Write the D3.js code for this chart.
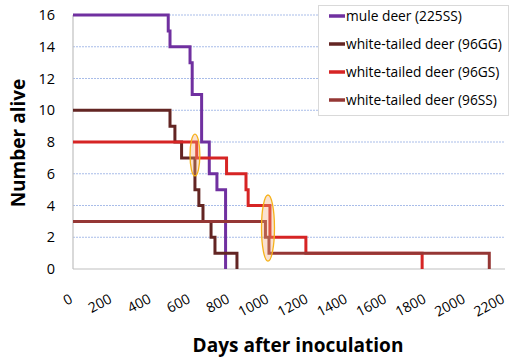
<!DOCTYPE html>
<html>
<head>
<meta charset="utf-8">
<script src="https://cdn.jsdelivr.net/npm/d3@7"></script>
<style>
  html, body { margin: 0; padding: 0; background: #fff; }
  svg { display: block; }
  text { font-family: "Open Sans", "DejaVu Sans", sans-serif; fill: #000; }
</style>
</head>
<body>
<svg id="chart" width="516" height="357"></svg>
<script>
// ---- data ----
const seriesNames = ["mule deer (225SS)", "white-tailed deer (96GG)", "white-tailed deer (96GS)", "white-tailed deer (96SS)"];
const seriesColors = ["#7030a0", "#632523", "#d62424", "#953735"];
const muleDays   = [0, 485, 494, 596, 607, 655, 694, 733, 777];
const muleAlive  = [16, 15, 14, 13, 11, 8, 6, 5, 0];
const gg96Days   = [0, 494, 519, 553, 621, 641, 662, 703, 723, 835];
const gg96Alive  = [10, 9, 8, 7, 5, 4, 3, 2, 1, 0];
const gs96Days   = [0, 630, 782, 881, 892, 1003, 1186, 1778];
const gs96Alive  = [8, 7, 6, 5, 4, 2, 1, 0];
const ss96Days   = [0, 980, 998, 2120];
const ss96Alive  = [3, 2, 1, 0];
const xTicks = [0, 200, 400, 600, 800, 1000, 1200, 1400, 1600, 1800, 2000, 2200];
const yTicks = [0, 2, 4, 6, 8, 10, 12, 14, 16];
// highlighted regions: centre day, centre value, half-width (days), half-height (animals)
const highlightDay = [621, 993];
const highlightVal = [7.18, 2.58];
const highlightRDay = [25, 33];
const highlightRVal = [1.32, 2.08];

const series = [
  {days: muleDays, alive: muleAlive},
  {days: gg96Days, alive: gg96Alive},
  {days: gs96Days, alive: gs96Alive},
  {days: ss96Days, alive: ss96Alive}
];

// ---- layout ----
const svg = d3.select("#chart");
const pL = 73, pR = 505, pT = 15, pB = 269;
const x = d3.scaleLinear().domain([0, 2200]).range([pL, pR]);
const y = d3.scaleLinear().domain([0, 16]).range([pB, pT]);

function fitWidth(sel, fs, target) {
  sel.style("font-size", fs + "px");
  const w = sel.node().getComputedTextLength();
  sel.style("font-size", (fs * target / w).toFixed(2) + "px");
}

// gridlines
svg.append("g").selectAll("line").data(yTicks.filter(d => d > 0)).join("line")
  .attr("x1", pL).attr("x2", pR)
  .attr("y1", d => y(d)).attr("y2", d => y(d))
  .attr("stroke", "#a9bde9").attr("stroke-width", 1)
  .attr("stroke-dasharray", "2,1");

// axes lines
svg.append("line").attr("x1", pL).attr("x2", pL).attr("y1", pT).attr("y2", pB)
  .attr("stroke", "#c0c0c0").attr("stroke-width", 1.2);
svg.append("line").attr("x1", pL).attr("x2", pR).attr("y1", pB).attr("y2", pB)
  .attr("stroke", "#c0c0c0").attr("stroke-width", 1.2);

// y tick labels
const yAxis = d3.axisLeft(y).tickValues(yTicks).tickSize(0).tickPadding(18);
const yg = svg.append("g").attr("transform", `translate(${pL},0)`).call(yAxis);
yg.select(".domain").remove();
yg.selectAll("text").style("font-size", "14.5px").style("font-family", "Open Sans").attr("fill", "#000");

// x tick labels (rotated)
const xAxis = d3.axisBottom(x).tickValues(xTicks).tickSize(0).tickFormat(d3.format("d"));
const xg = svg.append("g").attr("transform", `translate(0,${pB})`).call(xAxis);
xg.select(".domain").remove();
xg.selectAll(".tick text")
  .style("font-size", "14px").style("font-family", "Open Sans").attr("fill", "#000")
  .attr("text-anchor", "end").attr("dy", null).attr("y", 0)
  .attr("transform", "translate(0,33) rotate(-28)");

// series lines
const line = d3.line().x(d => x(d[0])).y(d => y(d[1])).curve(d3.curveStepAfter);
series.forEach((s, i) => {
  const pts = s.days.map((d, j) => [d, s.alive[j]]);
  svg.append("path").datum(pts)
    .attr("d", line)
    .attr("fill", "none")
    .attr("stroke", seriesColors[i])
    .attr("stroke-width", 3)
    .attr("stroke-linejoin", "miter");
});

// highlight ellipses
highlightDay.forEach((d, i) => {
  svg.append("ellipse")
    .attr("cx", x(d)).attr("cy", y(highlightVal[i]))
    .attr("rx", x(highlightRDay[i]) - x(0))
    .attr("ry", y(0) - y(highlightRVal[i]))
    .attr("fill", "rgba(240,170,120,0.35)")
    .attr("stroke", "#f6b21a").attr("stroke-width", 1.3);
});

// legend
const lg = svg.append("g");
lg.append("rect").attr("x", 318.5).attr("y", 5.5).attr("width", 190).attr("height", 110)
  .attr("fill", "#fff").attr("stroke", "#d9d9d9").attr("stroke-width", 1);
const legendTexts = [];
seriesNames.forEach((n, i) => {
  const cy = 16 + i * 28;
  lg.append("line").attr("x1", 329).attr("x2", 345).attr("y1", cy).attr("y2", cy)
    .attr("stroke", seriesColors[i]).attr("stroke-width", 3.5);
  legendTexts.push(lg.append("text").attr("x", 346).attr("y", cy).attr("dy", "0.35em").text(n));
});
fitWidth(legendTexts[1], 13, 156);
const lfs = legendTexts[1].style("font-size");
legendTexts.forEach(t => t.style("font-size", lfs));

// axis titles
const xt = svg.append("text").attr("x", 298).attr("y", 352).attr("text-anchor", "middle")
  .style("font-weight", "bold").text("Days after inoculation");
fitWidth(xt, 17, 211);
const yt = svg.append("text").attr("transform", "translate(25,143) rotate(-90)").attr("text-anchor", "middle")
  .style("font-weight", "bold").text("Number alive");
yt.style("font-size", xt.style("font-size"));
</script>
</body>
</html>
